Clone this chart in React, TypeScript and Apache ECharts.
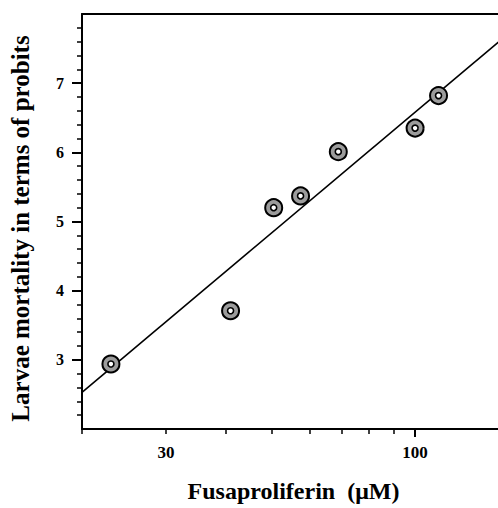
import React, { useEffect, useRef } from "react";
import * as echarts from "echarts";

// Data
const concentrations = [23, 41, 50.5, 57.5, 69, 100, 112];
const probits = [2.94, 3.71, 5.2, 5.37, 6.01, 6.35, 6.82];
const fitX = [20, 150];
const fitY = [2.53, 7.6];
const xTickValues = [20, 30, 40, 50, 60, 70, 80, 90];
const xMajorTickValues = [100];
const xLabelValues = [30, 100];
const yLabelValues = [3, 4, 5, 6, 7];

const FONT = "'Liberation Serif', 'Times New Roman', serif";

export default function App() {
  const ref = useRef<HTMLDivElement>(null);
  useEffect(() => {
    if (!ref.current) return;
    const chart = echarts.init(ref.current, null, { renderer: "svg" });
    const pts = concentrations.map((c, i) => [c, probits[i]]);
    const fit = fitX.map((x, i) => [x, fitY[i]]);
    chart.setOption({
      animation: false,
      backgroundColor: "#ffffff",
      grid: { left: 81, top: 14, right: 21, bottom: 78 },
      xAxis: [
        {
          type: "log",
          logBase: 10,
          min: 20,
          max: 150,
          position: "bottom",
          name: "Fusaproliferin  (\u03bcM)",
          nameLocation: "middle",
          nameGap: 50,
          nameTextStyle: { fontFamily: FONT, fontWeight: "bold", fontSize: 24, color: "#000", padding: [0, 0, 0, 6] },
          axisLine: { show: true, lineStyle: { color: "#000", width: 2 } },
          axisTick: { show: true, length: 5, lineStyle: { color: "#000", width: 1.5 }, customValues: xTickValues },
          axisLabel: {
            show: true,
            customValues: xLabelValues,
            margin: 15,
            fontFamily: FONT,
            fontWeight: "bold",
            fontSize: 17,
            color: "#000",
          },
          splitLine: { show: false },
          minorTick: { show: false },
        },
        {
          type: "log",
          logBase: 10,
          min: 20,
          max: 150,
          position: "bottom",
          offset: 0,
          axisLine: { show: false },
          axisTick: { show: true, length: 8, lineStyle: { color: "#000", width: 2 }, customValues: xMajorTickValues },
          axisLabel: { show: false },
          splitLine: { show: false },
        },
        {
          type: "log",
          logBase: 10,
          min: 20,
          max: 150,
          position: "top",
          axisLine: { show: true, lineStyle: { color: "#000", width: 2 } },
          axisTick: { show: false },
          axisLabel: { show: false },
          splitLine: { show: false },
        },
      ],
      yAxis: {
        type: "value",
        min: 2,
        max: 8,
        interval: 1,
        name: "Larvae mortality in terms of probits",
        nameLocation: "middle",
        nameGap: 49,
        nameRotate: 90,
        nameTextStyle: { fontFamily: FONT, fontWeight: "bold", fontSize: 25, color: "#000", padding: [0, 14, 0, 0] },
        axisLine: { show: true, lineStyle: { color: "#000", width: 2 } },
        axisTick: { show: true, length: 10, lineStyle: { color: "#000", width: 2 }, customValues: yLabelValues },
        minorTick: { show: true, splitNumber: 5, length: 5, lineStyle: { color: "#000", width: 1.5 } },
        axisLabel: {
          customValues: yLabelValues,
          margin: 18,
          fontFamily: FONT,
          fontWeight: "bold",
          fontSize: 16,
          color: "#000",
        },
        splitLine: { show: false },
      },
      series: [
        {
          type: "line",
          data: fit,
          showSymbol: false,
          symbol: "none",
          lineStyle: { color: "#000", width: 1.6 },
          clip: true,
          silent: true,
        },
        {
          type: "scatter",
          data: pts,
          symbol: "circle",
          symbolSize: 17,
          itemStyle: { color: "#9c9c9c", borderColor: "#000", borderWidth: 2, opacity: 1 },
          z: 3,
        },
        {
          type: "scatter",
          data: pts,
          symbol: "circle",
          symbolSize: 6,
          itemStyle: { color: "#fff", borderColor: "#000", borderWidth: 1.6, opacity: 1 },
          z: 4,
        },
      ],
    });
    return () => chart.dispose();
  }, []);
  return (
    <div
      ref={ref}
      style={{ position: "fixed", left: 0, top: 0, width: 520, height: 508 }}
    />
  );
}
